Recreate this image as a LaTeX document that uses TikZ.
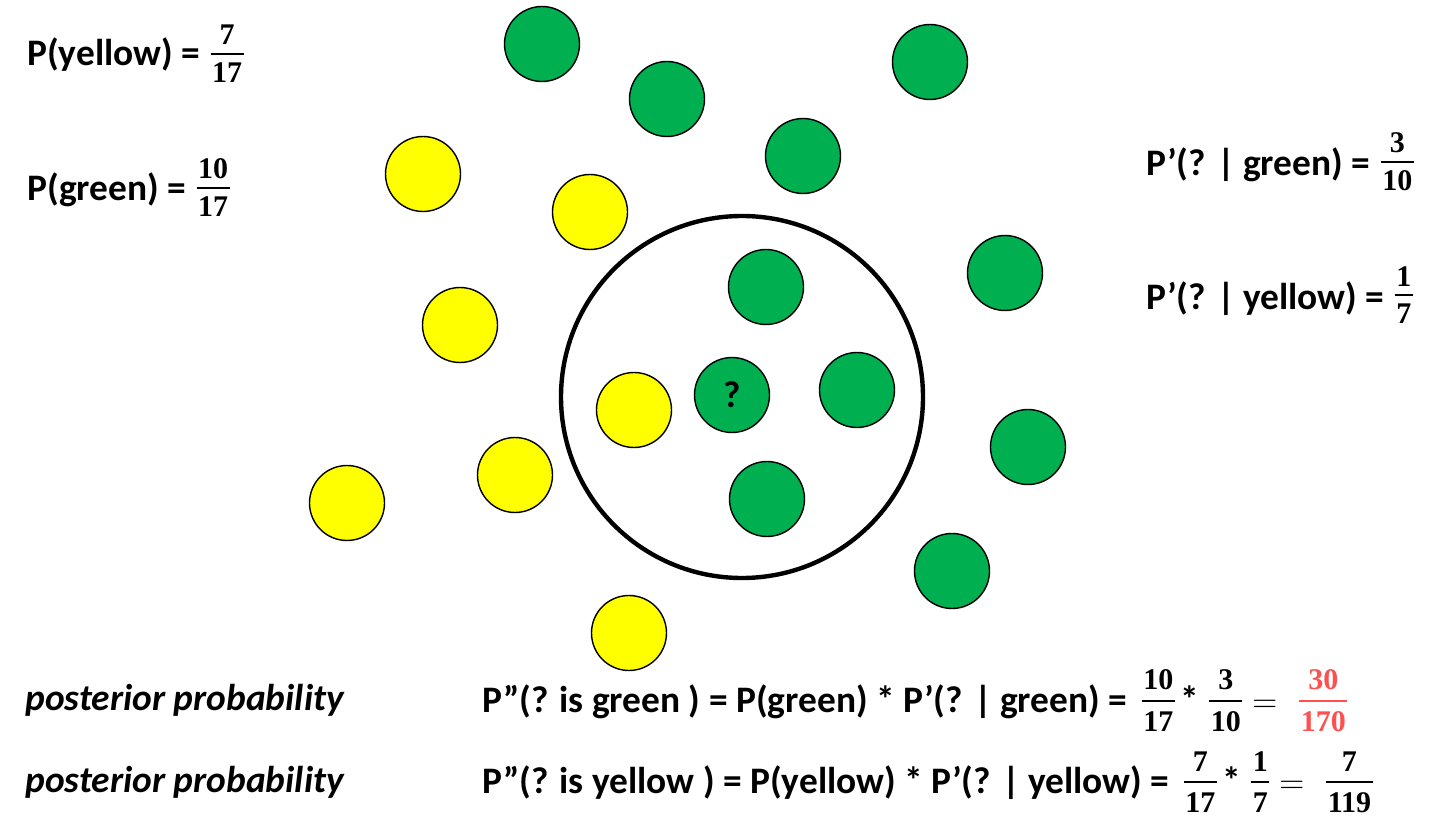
\documentclass[tikz,border=0pt]{standalone}
\usepackage[no-math]{fontspec}
\setmainfont{Carlito}
\newfontfamily\numfont{Liberation Serif}
\usetikzlibrary{positioning}

\definecolor{ballgreen}{HTML}{00B050}
\definecolor{ballyellow}{HTML}{FFFF00}
\definecolor{resred}{HTML}{FF5050}

% stacked fraction: [height of bar above baseline]{numerator}{denominator}
\newlength\fgap \setlength\fgap{4pt}
\newcommand\frc[3][6pt]{{\numfont\bfseries\fontsize{15}{15}\selectfont
  \setbox0=\hbox{#2}\setbox2=\hbox{#3}%
  \dimen0=\wd0 \ifdim\wd2>\dimen0 \dimen0=\wd2 \fi
  \advance\dimen0 by 1.5pt
  \dimen2=#1 \advance\dimen2 by -0.5pt \advance\dimen2 by -\fgap \advance\dimen2 by -\ht2
  \kern1pt\raise\dimen2\vbox{\hbox to\dimen0{\hss\box0\hss}\kern\fgap
    \hrule height 1pt\kern\fgap\hbox to\dimen0{\hss\box2\hss}}\kern1pt}}
\newcommand\meq{{\fontsize{16}{16}\selectfont$=$}}

\tikzset{
  ball/.style={circle, draw, line width=0.7pt, minimum size=37.5pt, inner sep=0pt},
  gball/.style={ball, fill=ballgreen},
  yball/.style={ball, fill=ballyellow},
  txt/.style={anchor=base west, inner sep=0pt, font=\fontsize{18.7}{22}\selectfont\bfseries}
}

\begin{document}
\begin{tikzpicture}[x=0.5pt,y=-0.5pt]
\useasboundingbox (0,0) rectangle (1432,840);
% neighbourhood of the new point
\node[circle, draw, line width=2.2pt, minimum size=181pt, inner sep=0pt] (win) at (742,397) {};
% green points
\node[gball] (g1) at (542,44) {};
\node[gball] (g2) at (667,99) {};
\node[gball] (g3) at (930,62) {};
\node[gball] (g4) at (803,156) {};
\node[gball] (g5) at (1005,273) {};
\node[gball] (g6) at (766,287) {};
\node[gball] (g7) at (857,390) {};
\node[gball] (g8) at (1028,447) {};
\node[gball] (g9) at (767,499) {};
\node[gball] (g10) at (952,571) {};
\node[gball, font=\fontsize{18.7}{22}\selectfont\bfseries] (q) at (732,395) {?};
% yellow points
\node[yball] (y1) at (423,174) {};
\node[yball] (y2) at (590,212) {};
\node[yball] (y3) at (460,325) {};
\node[yball] (y4) at (634,410) {};
\node[yball] (y5) at (515,475) {};
\node[yball] (y6) at (347,503) {};
\node[yball] (y7) at (629,633) {};
% prior probabilities
\node[txt] (pyel) at (27,66) {P(yellow) = \frc{7}{17}};
\node[txt] (pgrn) at (27,201) {P(green) = \frc[6.5pt]{10}{17}};
% likelihoods
\node[txt] (lgrn) at (1146,176) {P’(? | green) = \frc[7pt]{3}{10}};
\node[txt] (lyel) at (1146,309) {P’(? | yellow) = \frc[7pt]{1}{7}};
% posterior
\node[txt, font=\fontsize{18.7}{22}\selectfont\bfseries\itshape] (post1) at (25,710) {posterior probability};
\node[txt, font=\fontsize{18.7}{22}\selectfont\bfseries\itshape] (post2) at (25,792) {posterior probability};
\setlength\fgap{5pt}
\node[txt] (res1) at (482,712) {P”(? is green ) = P(green) * P’(? | green) = \hspace{2pt}\frc[5.5pt]{10}{17}\hspace{2pt}*\hspace{4pt}\frc[5.5pt]{3}{10}\hspace{4pt}\meq\hspace{10pt}{\color{resred}\frc[5.5pt]{30}{170}}};
\node[txt] (res2) at (482,793) {P”(? is yellow ) = P(yellow) * P’(? | yellow) = \hspace{2pt}\frc[5.5pt]{7}{17}\hspace{2pt}*\hspace{4pt}\frc[5.5pt]{1}{7}\hspace{4pt}\meq\hspace{10pt}\frc[5.5pt]{7}{119}};
\end{tikzpicture}
\end{document}
